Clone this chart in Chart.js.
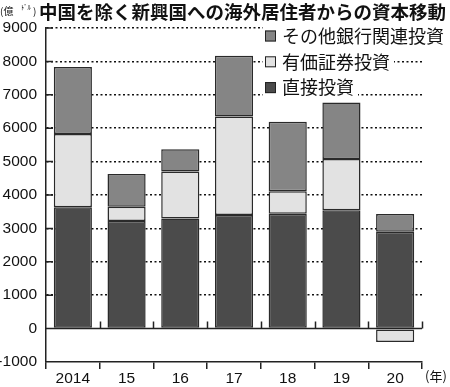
<!DOCTYPE html>
<html>
<head>
<meta charset="utf-8">
<script src="https://cdn.jsdelivr.net/npm/chart.js@4"></script>
<style>
html, body { margin: 0; padding: 0; background: #fff; }
#capitalChart { display: block; }
</style>
</head>
<body>
<canvas id="capitalChart" width="450" height="387" style="width:450px;height:387px"></canvas>
<script>
// values in 億ドル
const years = ['2014', '15', '16', '17', '18', '19', '20'];
const direct = [3630, 3220, 3300, 3400, 3440, 3540, 2900];
const portfolio = [2200, 430, 1400, 2950, 670, 1540, -400];
const otherBank = [2000, 980, 670, 1820, 2080, 1690, 530];
const yTicks = [-1000, 0, 1000, 2000, 3000, 4000, 5000, 6000, 7000, 8000, 9000];

const titleText = '中国を除く新興国への海外居住者からの資本移動';
const numFont = '"Liberation Sans", Arial, sans-serif';
const jpFont = '"Noto Sans CJK JP", sans-serif';

// shrink a font until the text fits the given width
function fitFont(ctx, text, weight, size, maxWidth) {
    ctx.font = weight + size + 'px ' + jpFont;
    while (ctx.measureText(text).width > maxWidth && size > 6) {
        size -= 0.25;
        ctx.font = weight + size + 'px ' + jpFont;
    }
    return size;
}

// zero line, inward y ticks, upward ticks on the zero line
const axisDecor = {
    id: 'axisDecor',
    beforeDatasetsDraw(chart) {
        const { ctx, chartArea, scales } = chart;
        const y0 = scales.y.getPixelForValue(0);
        const step = (chartArea.right - chartArea.left) / years.length;
        ctx.save();
        ctx.strokeStyle = '#222';
        ctx.lineWidth = 1.5;
        ctx.beginPath();
        ctx.moveTo(chartArea.left, y0);
        ctx.lineTo(chartArea.right, y0);
        for (let i = 1; i <= years.length; i++) {
            const x = Math.round(chartArea.left + step * i) + 0.5;
            ctx.moveTo(x, y0);
            ctx.lineTo(x, y0 - 7);
        }
        yTicks.forEach(v => {
            if (v <= -1000) return;
            const y = scales.y.getPixelForValue(v);
            ctx.moveTo(chartArea.left, y);
            ctx.lineTo(chartArea.left + 7, y);
        });
        ctx.stroke();
        ctx.restore();
    }
};

// title, unit, legend
const headerAndLegend = {
    id: 'headerAndLegend',
    afterDraw(chart) {
        const ctx = chart.ctx;
        ctx.save();
        ctx.textBaseline = 'middle';
        ctx.fillStyle = '#111';
        fitFont(ctx, titleText, 'bold ', 20.5, 408);
        ctx.fillText(titleText, 39, 12);

        ctx.font = '10px ' + jpFont;
        ctx.fillText('(億', 0, 11);
        ctx.font = '6.5px ' + jpFont;
        ctx.fillText('ﾄﾞﾙ', 21, 8);
        ctx.font = '10px ' + jpFont;
        ctx.fillText(')', 33, 11);

        // legend, top item = top of the stack
        const items = chart.data.datasets.slice().reverse();
        ctx.font = '18px ' + jpFont;
        items.forEach((ds, i) => {
            const y = 36 + i * 25.8;
            const w = ctx.measureText(ds.label).width;
            ctx.fillStyle = '#fff';
            ctx.fillRect(263, y - 9, 283 - 263 + w + 3, 18);
            ctx.fillStyle = ds.backgroundColor;
            ctx.fillRect(265, y - 5.5, 11, 11);
            ctx.strokeStyle = '#222';
            ctx.lineWidth = 1;
            ctx.strokeRect(265.5, y - 5, 10, 10);
            ctx.fillStyle = '#111';
            ctx.fillText(ds.label, 282, y);
        });

        fitFont(ctx, '(年)', '', 15, 22);
        ctx.fillText('(年)', 425, 376);
        ctx.restore();
    }
};

const capitalChart = new Chart(document.getElementById('capitalChart').getContext('2d'), {
    type: 'bar',
    data: {
        labels: years,
        datasets: [{
            label: '直接投資',
            data: direct,
            backgroundColor: '#4b4b4b'
        }, {
            label: '有価証券投資',
            data: portfolio,
            backgroundColor: '#e2e2e2'
        }, {
            label: 'その他銀行関連投資',
            data: otherBank,
            backgroundColor: '#858585'
        }]
    },
    options: {
        responsive: false,
        animation: false,
        devicePixelRatio: 1,
        layout: {
            padding: { top: 28, right: 28, left: 0, bottom: 0 }
        },
        datasets: {
            bar: {
                borderColor: '#2a2a2a',
                borderWidth: 1.5,
                borderSkipped: false,
                categoryPercentage: 1,
                barPercentage: 0.71
            }
        },
        plugins: {
            legend: { display: false },
            tooltip: { enabled: false }
        },
        scales: {
            x: {
                stacked: true,
                grid: {
                    drawOnChartArea: false,
                    drawTicks: true,
                    tickLength: 7,
                    color: '#222',
                    lineWidth: 1.5
                },
                border: { display: true, color: '#222', width: 1.5 },
                ticks: {
                    color: '#111',
                    padding: 0,
                    maxRotation: 0,
                    font: { family: numFont, size: 15.5 }
                },
                afterFit: scale => { scale.height = 25; }
            },
            y: {
                stacked: true,
                min: -1000,
                max: 9000,
                afterBuildTicks: scale => {
                    scale.ticks = yTicks.map(v => ({ value: v }));
                },
                grid: {
                    drawTicks: false,
                    lineWidth: 1.6,
                    borderDash: [2, 2.5],
                    color: ctx => (ctx.tick && ctx.tick.value > 0) ? '#111' : 'rgba(0,0,0,0)'
                },
                border: { display: true, color: '#222', width: 1.5, dash: [2, 2.5] },
                ticks: {
                    color: '#111',
                    padding: 9,
                    font: { family: numFont, size: 15.5 },
                    callback: v => String(v)
                },
                afterFit: scale => { scale.width = 46; }
            }
        }
    },
    plugins: [axisDecor, headerAndLegend]
});
</script>
</body>
</html>
